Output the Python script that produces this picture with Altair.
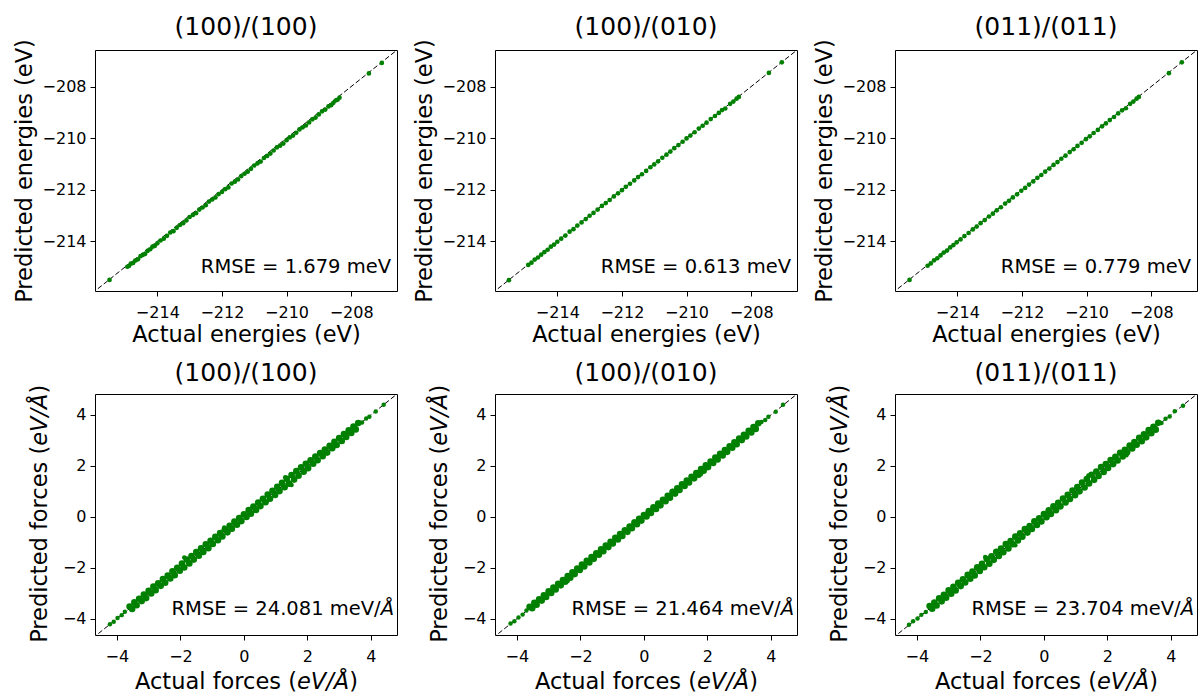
import altair as alt
import pandas as pd

# ---------------- text ----------------
TITLES = ["(100)/(100)", "(100)/(010)", "(011)/(011)"]
E_RMSE = ["RMSE = 1.679 meV", "RMSE = 0.613 meV", "RMSE = 0.779 meV"]
# forces RMSE: plain part + italic Å
F_RMSE = ["RMSE = 24.081 meV/", "RMSE = 21.464 meV/", "RMSE = 23.704 meV/"]
F_RMSE_UNIT = "Å"
E_XTITLE = "Actual energies (eV)"
E_YTITLE = "Predicted energies (eV)"
# forces titles: plain part + italic unit part + closing bracket
F_XTITLE_PARTS = ["Actual forces (", "eV/Å", ")"]
F_YTITLE_PARTS = ["Predicted forces (", "eV/Å", ")"]

# ---------------- ticks / axis limits ----------------
E_TICKS = [-214, -212, -210, -208]
F_TICKS = [-4, -2, 0, 2, 4]
E_DOMAIN = [-215.93, -206.58]
F_X_DOMAIN = [-4.69, 4.82]
F_Y_DOMAIN = [-4.64, 4.82]

# ---------------- energies (eV) ----------------
E1_ACTUAL = [-215.48, -214.93, -214.88, -214.82, -214.75, -214.68, -214.60, -214.52, -214.45, -214.38,
             -214.30, -214.22, -214.15, -214.08, -214.00, -213.90, -213.80, -213.70, -213.60, -213.50,
             -213.40, -213.30, -213.20, -213.10, -213.00, -212.90, -212.80, -212.70, -212.60, -212.50,
             -212.40, -212.30, -212.20, -212.10, -212.00, -211.90, -211.80, -211.70, -211.60, -211.50,
             -211.40, -211.30, -211.20, -211.10, -211.00, -210.90, -210.80, -210.70, -210.60, -210.50,
             -210.40, -210.30, -210.20, -210.10, -210.00, -209.90, -209.80, -209.70, -209.60, -209.50,
             -209.40, -209.30, -209.20, -209.10, -209.00, -208.90, -208.80, -208.70, -208.62, -208.55,
             -208.48, -208.42, -208.36, -207.45, -207.05]
E1_PRED = [-215.50, -214.99, -214.96, -214.87, -214.84, -214.75, -214.70, -214.58, -214.53, -214.49,
           -214.37, -214.31, -214.21, -214.18, -214.08, -213.97, -213.90, -213.79, -213.66, -213.61,
           -213.48, -213.37, -213.30, -213.19, -213.06, -212.98, -212.91, -212.77, -212.69, -212.60,
           -212.46, -212.38, -212.30, -212.17, -212.09, -211.98, -211.91, -211.76, -211.69, -211.60,
           -211.47, -211.38, -211.30, -211.19, -211.06, -210.98, -210.91, -210.77, -210.69, -210.60,
           -210.48, -210.36, -210.29, -210.21, -210.08, -209.97, -209.90, -209.79, -209.66, -209.58,
           -209.51, -209.39, -209.27, -209.20, -209.08, -208.96, -208.89, -208.77, -208.72, -208.63,
           -208.54, -208.51, -208.43, -207.49, -207.08]

E2_ACTUAL = [-215.50, -214.90, -214.80, -214.70, -214.60, -214.50, -214.40, -214.30, -214.20, -214.10,
             -214.00, -213.88, -213.75, -213.62, -213.50, -213.38, -213.25, -213.12, -213.00, -212.88,
             -212.75, -212.62, -212.50, -212.38, -212.25, -212.12, -212.00, -211.88, -211.75, -211.62,
             -211.50, -211.38, -211.25, -211.12, -211.00, -210.88, -210.75, -210.62, -210.50, -210.38,
             -210.25, -210.12, -210.00, -209.88, -209.75, -209.62, -209.50, -209.38, -209.25, -209.12,
             -209.00, -208.90, -208.80, -208.65, -208.55, -208.45, -208.38, -207.45, -207.05]
E2_PRED = [-215.51, -214.92, -214.83, -214.71, -214.63, -214.52, -214.42, -214.33, -214.21, -214.13,
           -214.02, -213.90, -213.78, -213.63, -213.53, -213.39, -213.27, -213.14, -213.01, -212.90,
           -212.77, -212.63, -212.52, -212.40, -212.26, -212.14, -212.02, -211.89, -211.77, -211.64,
           -211.51, -211.40, -211.27, -211.13, -211.02, -210.90, -210.76, -210.64, -210.52, -210.39,
           -210.27, -210.14, -210.01, -209.90, -209.77, -209.63, -209.52, -209.40, -209.26, -209.14,
           -209.02, -208.91, -208.85, -208.67, -208.58, -208.47, -208.40, -207.47, -207.06]

E3_ACTUAL = [-215.48, -214.92, -214.82, -214.72, -214.62, -214.52, -214.42, -214.32, -214.22, -214.12,
             -214.02, -213.90, -213.78, -213.65, -213.52, -213.40, -213.28, -213.15, -213.02, -212.90,
             -212.78, -212.65, -212.52, -212.40, -212.28, -212.15, -212.02, -211.90, -211.78, -211.65,
             -211.52, -211.40, -211.28, -211.15, -211.02, -210.90, -210.78, -210.65, -210.52, -210.40,
             -210.28, -210.15, -210.02, -209.90, -209.78, -209.65, -209.52, -209.40, -209.28, -209.15,
             -209.02, -208.90, -208.78, -208.65, -208.55, -208.45, -208.38, -207.45, -207.05]
E3_PRED = [-215.50, -214.95, -214.86, -214.74, -214.66, -214.55, -214.44, -214.36, -214.24, -214.15,
           -214.04, -213.93, -213.80, -213.68, -213.54, -213.43, -213.30, -213.18, -213.04, -212.93,
           -212.80, -212.68, -212.54, -212.43, -212.30, -212.18, -212.04, -211.93, -211.80, -211.68,
           -211.54, -211.43, -211.30, -211.18, -211.04, -210.93, -210.80, -210.68, -210.54, -210.43,
           -210.30, -210.18, -210.04, -209.93, -209.80, -209.68, -209.54, -209.43, -209.30, -209.18,
           -209.04, -208.92, -208.84, -208.67, -208.58, -208.47, -208.40, -207.48, -207.06]

# ---------------- forces (eV/Å): sampled positions along the dense band ----------------
F_ACTUAL_A = [-3.60, -3.45, -3.30, -3.15, -3.00, -2.85, -2.70, -2.55, -2.40, -2.25, -2.10, -1.95, -1.80,
              -1.65, -1.50, -1.35, -1.20, -1.05, -0.90, -0.75, -0.60, -0.45, -0.30, -0.15, 0.00, 0.15,
              0.30, 0.45, 0.60, 0.75, 0.90, 1.05, 1.20, 1.35, 1.50, 1.65, 1.80, 1.95, 2.10, 2.25, 2.40,
              2.55, 2.70, 2.85, 3.00, 3.15, 3.30, 3.45, 3.60]
F_ACTUAL_B = [-3.52, -3.38, -3.22, -3.08, -2.92, -2.78, -2.62, -2.48, -2.32, -2.18, -2.02, -1.88, -1.72,
              -1.58, -1.42, -1.28, -1.12, -0.98, -0.82, -0.68, -0.52, -0.38, -0.22, -0.08, 0.08, 0.22,
              0.38, 0.52, 0.68, 0.82, 0.98, 1.12, 1.28, 1.42, 1.58, 1.72, 1.88, 2.02, 2.18, 2.32, 2.48,
              2.62, 2.78, 2.92, 3.08, 3.22, 3.38, 3.52]

F1_PRED_A = [-3.52, -3.36, -3.22, -3.05, -2.91, -2.74, -2.61, -2.44, -2.31, -2.14, -2.00, -1.84, -1.68,
             -1.54, -1.38, -1.24, -1.08, -0.94, -0.79, -0.64, -0.49, -0.35, -0.19, -0.05, 0.10, 0.26,
             0.40, 0.56, 0.71, 0.87, 1.02, 1.18, 1.33, 1.49, 1.64, 1.79, 1.94, 2.08, 2.22, 2.36, 2.50,
             2.64, 2.79, 2.94, 3.09, 3.25, 3.39, 3.54, 3.68]
F1_PRED_B = [-3.62, -3.47, -3.31, -3.19, -3.01, -2.88, -2.71, -2.59, -2.42, -2.29, -2.12, -1.99, -1.83,
             -1.68, -1.53, -1.38, -1.23, -1.07, -0.92, -0.77, -0.61, -0.47, -0.31, -0.17, -0.01, 0.12,
             0.27, 0.42, 0.57, 0.71, 0.86, 1.01, 1.16, 1.30, 1.46, 1.61, 1.77, 1.91, 2.08, 2.22, 2.38,
             2.52, 2.69, 2.82, 2.98, 3.13, 3.29, 3.43]
F1_TAIL_ACTUAL = [-4.22, -4.10, -3.98, -3.85, -3.75, 3.72, 3.85, 3.95, 4.15, 4.40, -1.88, -0.62, 1.30, 1.50]
F1_TAIL_PRED = [-4.22, -4.12, -3.97, -3.86, -3.73, 3.70, 3.86, 3.93, 4.13, 4.40, -1.60, -0.42, 1.55, 1.25]

F2_PRED_A = [-3.53, -3.38, -3.24, -3.08, -2.93, -2.78, -2.63, -2.48, -2.33, -2.18, -2.03, -1.88, -1.73,
             -1.58, -1.43, -1.28, -1.13, -0.98, -0.83, -0.68, -0.53, -0.38, -0.23, -0.08, 0.07, 0.22,
             0.37, 0.52, 0.67, 0.82, 0.97, 1.12, 1.27, 1.42, 1.57, 1.72, 1.87, 2.02, 2.17, 2.32, 2.47,
             2.62, 2.77, 2.92, 3.07, 3.22, 3.37, 3.52, 3.67]
F2_PRED_B = [-3.59, -3.45, -3.29, -3.15, -2.99, -2.85, -2.69, -2.55, -2.39, -2.25, -2.09, -1.95, -1.79,
             -1.65, -1.49, -1.35, -1.19, -1.05, -0.89, -0.75, -0.59, -0.45, -0.29, -0.15, 0.01, 0.15,
             0.31, 0.45, 0.61, 0.75, 0.91, 1.05, 1.21, 1.35, 1.51, 1.65, 1.81, 1.95, 2.11, 2.25, 2.41,
             2.55, 2.71, 2.85, 3.01, 3.15, 3.31, 3.45]
F2_TAIL_ACTUAL = [-4.20, -4.08, -3.95, -3.82, -3.70, 3.70, 3.82, 3.92, 4.15, 4.38, -0.30, 0.90, -2.40, 1.80]
F2_TAIL_PRED = [-4.19, -4.10, -3.95, -3.84, -3.68, 3.72, 3.80, 3.93, 4.12, 4.40, -0.18, 1.02, -2.52, 1.68]

F3_PRED_A = [-3.50, -3.37, -3.20, -3.06, -2.89, -2.75, -2.59, -2.45, -2.28, -2.15, -1.98, -1.85, -1.66,
             -1.55, -1.37, -1.25, -1.07, -0.95, -0.78, -0.65, -0.48, -0.36, -0.18, -0.06, 0.11, 0.25,
             0.41, 0.55, 0.72, 0.86, 1.03, 1.17, 1.34, 1.48, 1.65, 1.78, 1.95, 2.07, 2.23, 2.35, 2.51,
             2.63, 2.80, 2.93, 3.10, 3.24, 3.40, 3.53, 3.69]
F3_PRED_B = [-3.61, -3.48, -3.32, -3.18, -3.02, -2.89, -2.72, -2.58, -2.43, -2.30, -2.13, -1.98, -1.84,
             -1.69, -1.54, -1.39, -1.24, -1.08, -0.93, -0.78, -0.62, -0.48, -0.32, -0.18, -0.02, 0.11,
             0.26, 0.41, 0.56, 0.70, 0.85, 1.00, 1.15, 1.31, 1.45, 1.60, 1.76, 1.92, 2.07, 2.21, 2.37,
             2.53, 2.68, 2.83, 2.97, 3.12, 3.28, 3.42]
F3_TAIL_ACTUAL = [-4.25, -4.12, -3.98, -3.86, -3.72, 3.70, 3.83, 3.96, 4.12, 4.38, -1.85, -0.90, 1.40, 2.60]
F3_TAIL_PRED = [-4.24, -4.10, -3.99, -3.85, -3.74, 3.68, 3.85, 3.94, 4.14, 4.36, -1.58, -1.12, 1.62, 2.42]

# ---------------- layout ----------------
W, H = 302, 241
FONT = "DejaVu Sans"
GREEN = "#008000"
AX_TITLE_SIZE = 22.5
RMSE_SIZE = 19.5


def scales(xdom, ydom):
    return (alt.Scale(domain=xdom, nice=False, zero=False),
            alt.Scale(domain=ydom, nice=False, zero=False))


def diag_layer(xs, ys, xa, ya, xdom, ydom):
    lo = min(xdom[0], ydom[0]) - 1
    hi = max(xdom[1], ydom[1]) + 1
    return alt.Chart(pd.DataFrame({"a": [lo, hi], "p": [lo, hi]})).mark_line(
        color="black", strokeWidth=1, strokeDash=[5, 2.5], clip=True
    ).encode(x=alt.X("a:Q", scale=xs, axis=xa), y=alt.Y("p:Q", scale=ys, axis=ya))


def point_layer(actual, pred, xs, ys, xa, ya, size):
    return alt.Chart(pd.DataFrame({"a": actual, "p": pred})).mark_circle(
        color=GREEN, size=size, opacity=1
    ).encode(x=alt.X("a:Q", scale=xs, axis=xa), y=alt.Y("p:Q", scale=ys, axis=ya))


def text_layer(txt, x, y, align, size, italic=False, angle=0):
    return alt.Chart(pd.DataFrame({"t": [txt]})).mark_text(
        align=align, baseline="alphabetic", font=FONT, fontSize=size, color="black",
        fontStyle="italic" if italic else "normal", angle=angle
    ).encode(x=alt.value(x), y=alt.value(y), text="t:N")


def energy_panel(actual, pred, title, rmse):
    xs, ys = scales(E_DOMAIN, E_DOMAIN)
    xa = alt.Axis(values=E_TICKS, title=E_XTITLE, format="d")
    ya = alt.Axis(values=E_TICKS, title=E_YTITLE, format="d")
    return alt.layer(
        diag_layer(xs, ys, xa, ya, E_DOMAIN, E_DOMAIN),
        point_layer(actual, pred, xs, ys, xa, ya, 22),
        text_layer(rmse, W - 6, H - 18, "right", RMSE_SIZE),
    ).properties(width=W, height=H, title=alt.TitleParams(title, anchor="middle", frame="group"))


# widths (DejaVu Sans, em) of the title pieces, used to place the mixed-style axis titles
XP = [7.238 * AX_TITLE_SIZE, 2.32 * AX_TITLE_SIZE, 0.39 * AX_TITLE_SIZE]
YP = [8.821 * AX_TITLE_SIZE, 2.32 * AX_TITLE_SIZE, 0.39 * AX_TITLE_SIZE]
A_RING = 0.684 * RMSE_SIZE


def force_panel(band_a, band_b, pred_a, pred_b, tail_a, tail_p, title, rmse):
    xs, ys = scales(F_X_DOMAIN, F_Y_DOMAIN)
    xa = alt.Axis(values=F_TICKS, title=None, format="d")
    ya = alt.Axis(values=F_TICKS, title=None, format="d")
    # x title (below plot)
    x0 = W / 2 - sum(XP) / 2
    xsplit = x0 + XP[0]
    ybase = H + 54
    # y title (rotated, reading upwards)
    ystart = H / 2 + sum(YP) / 2
    ysplit = ystart - YP[0]
    xbase = -48
    rmse_end = W - 3
    return alt.layer(
        diag_layer(xs, ys, xa, ya, F_X_DOMAIN, F_Y_DOMAIN),
        point_layer(band_a + band_b, pred_a + pred_b, xs, ys, xa, ya, 44),
        point_layer(tail_a, tail_p, xs, ys, xa, ya, 20),
        text_layer(rmse, rmse_end - A_RING, H - 20, "right", RMSE_SIZE),
        text_layer(F_RMSE_UNIT, rmse_end, H - 20, "right", RMSE_SIZE, italic=True),
        text_layer(F_XTITLE_PARTS[0], xsplit, ybase, "right", AX_TITLE_SIZE),
        text_layer(F_XTITLE_PARTS[1], xsplit, ybase, "left", AX_TITLE_SIZE, italic=True),
        text_layer(F_XTITLE_PARTS[2], xsplit + XP[1], ybase, "left", AX_TITLE_SIZE),
        text_layer(F_YTITLE_PARTS[0], xbase, ysplit, "right", AX_TITLE_SIZE, angle=270),
        text_layer(F_YTITLE_PARTS[1], xbase, ysplit, "left", AX_TITLE_SIZE, italic=True, angle=270),
        text_layer(F_YTITLE_PARTS[2], xbase, ysplit - YP[1], "left", AX_TITLE_SIZE, angle=270),
    ).properties(width=W, height=H, title=alt.TitleParams(title, anchor="middle", frame="group"))


energy = [
    energy_panel(E1_ACTUAL, E1_PRED, TITLES[0], E_RMSE[0]),
    energy_panel(E2_ACTUAL, E2_PRED, TITLES[1], E_RMSE[1]),
    energy_panel(E3_ACTUAL, E3_PRED, TITLES[2], E_RMSE[2]),
]
forces = [
    force_panel(F_ACTUAL_A, F_ACTUAL_B, F1_PRED_A, F1_PRED_B, F1_TAIL_ACTUAL, F1_TAIL_PRED, TITLES[0], F_RMSE[0]),
    force_panel(F_ACTUAL_A, F_ACTUAL_B, F2_PRED_A, F2_PRED_B, F2_TAIL_ACTUAL, F2_TAIL_PRED, TITLES[1], F_RMSE[1]),
    force_panel(F_ACTUAL_A, F_ACTUAL_B, F3_PRED_A, F3_PRED_B, F3_TAIL_ACTUAL, F3_TAIL_PRED, TITLES[2], F_RMSE[2]),
]

chart = alt.concat(
    *energy, *forces, columns=3, spacing={"row": 103, "column": 98}, bounds="flush"
).properties(
    padding={"left": 12, "top": 14, "right": 0, "bottom": 0},
    background="white",
).configure_view(
    stroke="black", strokeWidth=1
).configure_axis(
    domain=False, grid=False, tickColor="black", tickSize=5, tickWidth=1,
    labelFont=FONT, labelFontSize=16, labelColor="black", labelFlush=False, labelOverlap=False,
    titleFont=FONT, titleFontSize=AX_TITLE_SIZE, titleFontWeight="normal", titleColor="black",
).configure_axisX(
    labelPadding=8, titlePadding=3
).configure_axisY(
    labelPadding=4, titlePadding=6
).configure_title(
    font=FONT, fontSize=25, fontWeight="normal", color="black", offset=-1
)

chart.save("out.html", embed_options={"renderer": "svg", "actions": False})
